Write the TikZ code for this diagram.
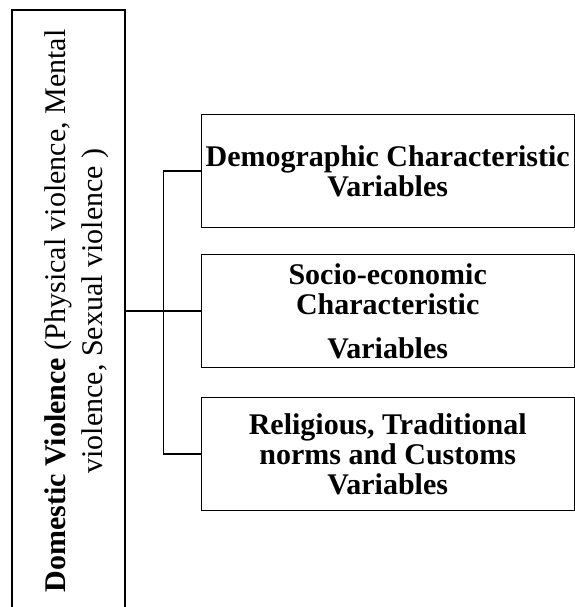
\documentclass[tikz,border=0pt]{standalone}
\usepackage{fontspec}
\setmainfont{Liberation Serif}
\usetikzlibrary{positioning,calc}
\tikzset{
    mainbox/.style={draw,line width=1.2pt,rectangle,rotate=90,minimum width=602pt,minimum height=113pt,inner sep=2pt,align=center,font=\fontsize{30}{37}\selectfont},
    varbox/.style={draw,line width=1.2pt,rectangle,minimum width=373pt,minimum height=113pt,inner sep=2pt,align=center,font=\bfseries\fontsize{30}{30}\selectfont},
}

\begin{document}
\begin{tikzpicture}[x=1pt,y=-1pt,line width=1.1pt,node distance=27pt]
            \useasboundingbox (0,0) rectangle (574,607);
            \node[mainbox] (dv) at (68.5,311) {\rule{0pt}{37pt}\textbf{Domestic Violence} (Physical violence, Mental\\ violence, Sexual violence )};
            \node[varbox] (socio) [right=75pt of dv.south, anchor=west] {Socio-economic\\ Characteristic\\[14pt] Variables};
            \node[varbox] (demo) [above of = socio, node distance=140pt] {Demographic Characteristic\\ Variables};
            \node[varbox] (relig) [below of = socio, node distance=143pt] {Religious, Traditional\\ norms and Customs\\ Variables};
            \coordinate (split) at ($(dv.south)!0.5!(socio.west)$);

            \path[draw]
                (dv.south) edge (socio.west)
                (demo.west) -| (split) |- (relig.west)
                ;
        \end{tikzpicture}
\end{document}
